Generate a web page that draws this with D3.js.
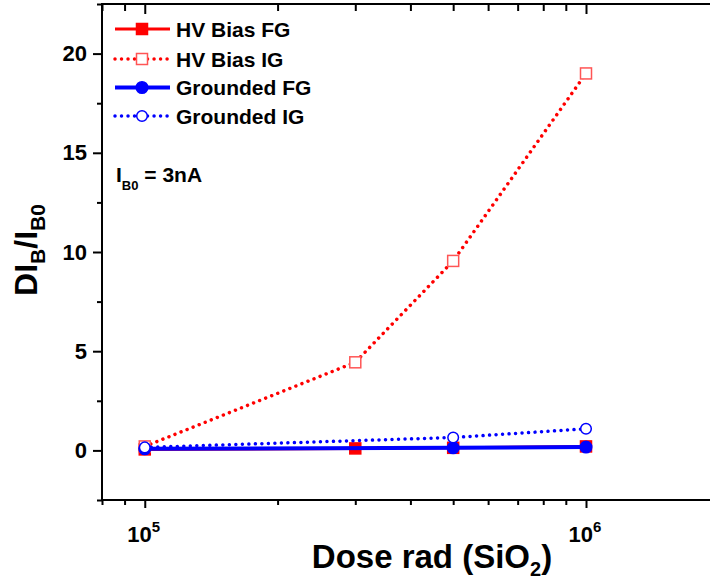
<!DOCTYPE html>
<html>
<head>
<meta charset="utf-8">
<script src="https://cdn.jsdelivr.net/npm/d3@7"></script>
<style>
  body { margin: 0; background: #fff; }
  svg { display: block; font-family: Arial, "Liberation Sans", sans-serif; font-weight: bold; }
</style>
</head>
<body>
<div id="chart"></div>
<script>
let width = 710;
let height = 585;

// data
let doses = [1e5, 3e5, 5e5, 1e6];
let hvBiasFG = [0.05, 0.1, 0.13, 0.2];
let hvBiasIG = [0.2, 4.44, 9.55, 19.0];
let groundedDoses = [1e5, 5e5, 1e6];
let groundedFG = [0.08, 0.13, 0.17];
let groundedIG = [0.15, 0.65, 1.09];

let yTicks = [0, 5, 10, 15, 20];
let yMinorTicks = [-2.5, 2.5, 7.5, 12.5, 17.5, 22.5];
let xMajorTicks = [1e5, 1e6];

let plotLeft = 102, plotRight = 712, plotTop = 4, plotBottom = 500;

let svg = d3.select("#chart")
  .append("svg")
    .attr("width", width)
    .attr("height", height);

let xScale = d3.scaleLog().domain([8e4, 1.93e6]).range([plotLeft, plotRight]);
let yScale = d3.scaleLinear().domain([-2.5, 22.5]).range([plotBottom, plotTop]);

let xMinorTicks = xScale.ticks().filter(d => xMajorTicks.indexOf(d) < 0);

// frame
svg.append("rect")
  .attr("x", plotLeft).attr("y", plotTop)
  .attr("width", plotRight - plotLeft).attr("height", plotBottom - plotTop)
  .attr("fill", "none").attr("stroke", "#000").attr("stroke-width", 2);

function styleAxis(g){
  g.select(".domain").remove();
  g.selectAll("line").attr("stroke", "#000").attr("stroke-width", 2);
}

// bottom axis
svg.append("g").attr("transform", "translate(0," + plotBottom + ")")
  .call(d3.axisBottom(xScale).tickValues(xMinorTicks).tickSize(5).tickFormat(""))
  .call(styleAxis);
svg.append("g").attr("transform", "translate(0," + plotBottom + ")")
  .call(d3.axisBottom(xScale).tickValues(xMajorTicks).tickSize(8).tickFormat(""))
  .call(styleAxis);

// top axis, ticks inward
svg.append("g").attr("transform", "translate(0," + plotTop + ")")
  .call(d3.axisBottom(xScale).tickValues(xMinorTicks).tickSize(7).tickFormat(""))
  .call(styleAxis);
svg.append("g").attr("transform", "translate(0," + plotTop + ")")
  .call(d3.axisBottom(xScale).tickValues(xMajorTicks).tickSize(10).tickFormat(""))
  .call(styleAxis);

// x labels 10^n
xMajorTicks.forEach(function(v){
  let t = svg.append("text")
    .attr("x", xScale(v) - 1)
    .attr("y", 542)
    .attr("text-anchor", "middle")
    .style("font-size", "22px");
  t.append("tspan").text("10");
  t.append("tspan").attr("dy", -10).style("font-size", "15px").text(Math.round(Math.log10(v)));
});

// left axis
svg.append("g").attr("transform", "translate(" + plotLeft + ",0)")
  .call(d3.axisLeft(yScale).tickValues(yMinorTicks).tickSize(5).tickFormat(""))
  .call(styleAxis);
let yAxis = svg.append("g").attr("transform", "translate(" + plotLeft + ",0)")
  .call(d3.axisLeft(yScale).tickValues(yTicks).tickSize(9).tickPadding(6))
  .call(styleAxis);
yAxis.selectAll("text")
  .attr("fill", "#000")
  .style("font-size", "22px")
  .style("font-family", "Arial, 'Liberation Sans', sans-serif")
  .style("font-weight", "bold");

// right axis, ticks inward
svg.append("g").attr("transform", "translate(" + plotRight + ",0)")
  .call(d3.axisLeft(yScale).tickValues(yMinorTicks).tickSize(-5).tickFormat(""))
  .call(styleAxis);
svg.append("g").attr("transform", "translate(" + plotRight + ",0)")
  .call(d3.axisLeft(yScale).tickValues(yTicks).tickSize(-9).tickFormat(""))
  .call(styleAxis);

// series
let line = d3.line().x(d => xScale(d[0])).y(d => yScale(d[1]));

let series = [
  {name: "HV Bias FG", xs: doses, ys: hvBiasFG, color: "#ff0000", dotted: false, lw: 3, marker: "square", filled: true},
  {name: "HV Bias IG", xs: doses, ys: hvBiasIG, color: "#ff0000", dotted: true, lw: 3.5, marker: "square", filled: false},
  {name: "Grounded FG", xs: groundedDoses, ys: groundedFG, color: "#0000ff", dotted: false, lw: 4, marker: "circle", filled: true},
  {name: "Grounded IG", xs: groundedDoses, ys: groundedIG, color: "#0000ff", dotted: true, lw: 3.5, marker: "circle", filled: false}
];

function drawMarker(g, s, cx, cy){
  if(s.marker == "square"){
    g.append("rect")
      .attr("x", cx - 5.5).attr("y", cy - 5.5)
      .attr("width", 11).attr("height", 11)
      .attr("fill", s.filled ? s.color : "#fff")
      .attr("stroke", s.filled ? s.color : "#ff5555")
      .attr("stroke-width", 1.5);
  }else{
    g.append("circle")
      .attr("cx", cx).attr("cy", cy)
      .attr("r", s.filled ? 5.8 : 5.3)
      .attr("fill", s.filled ? s.color : "#fff")
      .attr("stroke", s.color)
      .attr("stroke-width", 1.5);
  }
}

series.forEach(function(s){
  let pts = s.xs.map((x, i) => [x, s.ys[i]]);
  let g = svg.append("g");
  let path = g.append("path")
    .datum(pts)
    .attr("d", line)
    .attr("fill", "none")
    .attr("stroke", s.color)
    .attr("stroke-width", s.lw);
  if(s.dotted){
    path.attr("stroke-dasharray", "0.01 6.5").attr("stroke-linecap", "round");
  }
  pts.forEach(p => drawMarker(g, s, xScale(p[0]), yScale(p[1])));
});

// legend
let legendY = [29, 59, 87.5, 116];
series.forEach(function(s, i){
  let g = svg.append("g").attr("transform", "translate(0," + legendY[i] + ")");
  let l = g.append("line")
    .attr("x1", 115).attr("x2", 170).attr("y1", 0).attr("y2", 0)
    .attr("stroke", s.color).attr("stroke-width", s.lw);
  if(s.dotted){
    l.attr("stroke-dasharray", "0.01 6.5").attr("stroke-linecap", "round");
  }
  drawMarker(g, s, 142, 0);
  g.append("text")
    .attr("x", 176).attr("y", 7.5)
    .style("font-size", "21px")
    .text(s.name);
});

// annotation
let note = svg.append("text").attr("x", 116).attr("y", 182).style("font-size", "21px");
note.append("tspan").text("I");
note.append("tspan").attr("dy", 8).style("font-size", "13px").text("B0");
note.append("tspan").attr("dy", -8).text(" = 3nA");

// x title
let xt = svg.append("text").attr("x", 432).attr("y", 568)
  .attr("text-anchor", "middle").style("font-size", "33px");
xt.append("tspan").text("Dose rad (SiO");
xt.append("tspan").attr("dy", 8).style("font-size", "20px").text("2");
xt.append("tspan").attr("dy", -8).text(")");

// y title
let yt = svg.append("text")
  .attr("transform", "translate(37,250) rotate(-90)")
  .attr("text-anchor", "middle").style("font-size", "32px");
yt.append("tspan").text("DI");
yt.append("tspan").attr("dy", 8).style("font-size", "21px").text("B");
yt.append("tspan").attr("dy", -8).text("/I");
yt.append("tspan").attr("dy", 8).style("font-size", "21px").text("B0");
</script>
</body>
</html>
